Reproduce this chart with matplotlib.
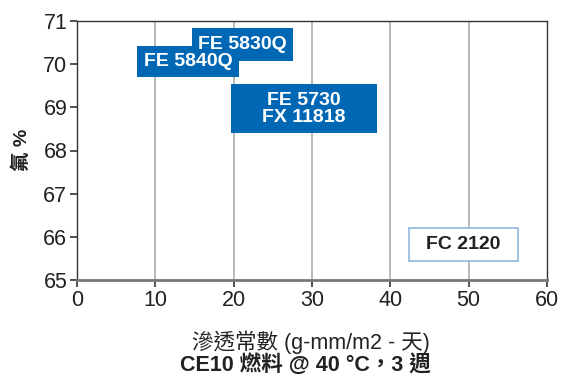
import matplotlib
matplotlib.use('Agg')
from matplotlib import pyplot as plt
from matplotlib.patches import Rectangle

plt.rcParams['font.family'] = ['Liberation Sans', 'Noto Sans CJK TC', 'DejaVu Sans']

# grades and their permeation / fluorine ranges
grades   = ['FE 5830Q', 'FE 5840Q', 'FE 5730\nFX 11818', 'FC 2120']
perm_lo  = [14.7, 7.7, 19.7, 42.4]
perm_hi  = [27.6, 20.7, 38.3, 56.3]
fluor_lo = [70.07, 69.70, 68.40, 65.44]
fluor_hi = [70.84, 70.42, 69.53, 66.20]
filled   = [True, True, True, False]

x_ticks = [0, 10, 20, 30, 40, 50, 60]
y_ticks = [65, 66, 67, 68, 69, 70, 71]

blue = '#0067b4'
cjk  = ['Liberation Sans', 'Noto Sans CJK TC', 'DejaVu Sans']

fig = plt.figure(figsize=(5.62, 3.76), dpi=100)
ax  = fig.add_axes([77/562, 1-280/376, 470/562, 259/376])

ax.set_xlim(0, 60)
ax.set_ylim(65, 71)
ax.set_xticks(x_ticks)
ax.set_yticks(y_ticks)
ax.tick_params(labelsize=15.5, length=5, width=1.2, color='#333333', pad=2, labelcolor='#222222')
for x in x_ticks[1:-1]:
    ax.axvline(x, color='#b8b8b8', lw=1.4, zorder=0)

for s in ['left', 'top', 'right']:
    ax.spines[s].set_color('#333333')
    ax.spines[s].set_linewidth(1.0)
ax.spines['bottom'].set_color('#777777')
ax.spines['bottom'].set_linewidth(2.0)

for name, x0, x1, y0, y1, f in zip(grades, perm_lo, perm_hi, fluor_lo, fluor_hi, filled):
    if f:
        ax.add_patch(Rectangle((x0, y0), x1-x0, y1-y0, facecolor=blue, edgecolor='none', zorder=3))
        tc = 'white'
    else:
        ax.add_patch(Rectangle((x0, y0), x1-x0, y1-y0, facecolor='white', edgecolor='#8fb6de', lw=1.2, zorder=3))
        tc = '#222222'
    ax.text((x0+x1)/2, (y0+y1)/2, name, ha='center', va='center', color=tc,
            fontsize=14, fontweight='bold', linespacing=1.0, zorder=4)

fig.text(22/562, 1-150/376, '氟 %', rotation=90, ha='center', va='center',
         fontsize=14, fontweight='bold', family=cjk, color='#222222')
fig.text(311/562, 1-342/376, '滲透常數 (g-mm/m2 - 天)', ha='center', va='center',
         fontsize=15.5, family=cjk, color='#222222')
fig.text(305/562, 1-365/376, 'CE10 燃料 @ 40 °C，3 週', ha='center', va='center',
         fontsize=15.5, fontweight='bold', family=cjk, color='#222222')

fig.savefig('out.png', dpi=100)
